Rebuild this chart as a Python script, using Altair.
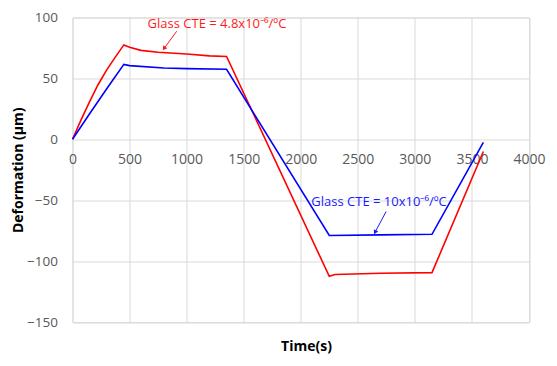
import altair as alt
import pandas as pd

# Series data
time_red = [0, 75, 150, 225, 300, 375, 450, 500, 600, 750, 1000, 1200, 1350, 2250, 2300, 2700, 3150, 3600]
def_red = [0, 16, 31, 45, 57, 67.5, 77.5, 75.5, 73, 71.5, 70, 68.5, 68, -112.5, -111, -110, -109.5, -10]
time_blue = [0, 150, 300, 450, 500, 800, 1000, 1350, 2250, 2700, 3150, 3600]
def_blue = [0, 21, 41.5, 61.5, 60.5, 58.5, 58, 57.5, -79, -78.5, -78, -2.5]

x_ticks = [0, 500, 1000, 1500, 2000, 2500, 3000, 3500, 4000]
y_ticks = [-150, -100, -50, 0, 50, 100]

# Annotations
ann_text = ["Glass CTE = 4.8x10⁻⁶/ºC", "Glass CTE = 10x10⁻⁶/ºC"]
ann_color = ["#ff1a1a", "#1a1aff"]
ann_x = [1266, 2686]
ann_y = [94.6, -51.1]
arrow_x0 = [913, 2748]
arrow_y0 = [88.7, -59.3]
arrow_x1 = [802, 2651]
arrow_y1 = [74.5, -76.4]
arrow_angle = [216, 208]

FONT = "Open Sans"

df = pd.concat([
    pd.DataFrame({"t": time_red, "d": def_red, "s": "red", "o": range(len(time_red))}),
    pd.DataFrame({"t": time_blue, "d": def_blue, "s": "blue", "o": range(len(time_blue))}),
])
ann = pd.DataFrame({"text": ann_text, "color": ann_color, "x": ann_x, "y": ann_y,
                    "x0": arrow_x0, "y0": arrow_y0, "x1": arrow_x1, "y1": arrow_y1,
                    "angle": arrow_angle})

xs = alt.Scale(domain=[0, 4000], nice=False)
ys = alt.Scale(domain=[-150, 100], nice=False)

lines = alt.Chart(df).mark_line(strokeWidth=1.6).encode(
    x=alt.X("t:Q", scale=xs, axis=alt.Axis(
        values=x_ticks, format="d", title="Time(s)", offset=-183, domain=False, ticks=False,
        labelPadding=13, labelColor="#595959", labelFontSize=14, labelFont=FONT, labelFlush=False,
        gridColor="#d9d9d9", titleFont=FONT, titleFontSize=14, titleFontWeight="bold",
        titleColor="#000000", titleX=233.5, titleY=207, titleBaseline="middle")),
    y=alt.Y("d:Q", scale=ys, axis=alt.Axis(
        values=y_ticks, format="d", title="Deformation (μm)", domain=False, ticks=False,
        labelPadding=15, labelColor="#595959", labelFontSize=13.5, labelFont=FONT, labelFlush=False,
        gridColor="#d9d9d9", titleFont=FONT, titleFontSize=14, titleFontWeight="bold",
        titleColor="#000000", titleX=-54.5, titleBaseline="middle")),
    color=alt.Color("s:N", scale=alt.Scale(domain=["red", "blue"], range=["#ff0000", "#0000ff"]), legend=None),
    order="o:Q",
    detail="s:N",
)

texts = alt.Chart(ann).mark_text(font=FONT, fontSize=13).encode(
    x="x:Q", y="y:Q", text="text:N",
    color=alt.Color("color:N", scale=None),
)

arrows = alt.Chart(ann).mark_rule(strokeWidth=1).encode(
    x="x0:Q", y="y0:Q", x2="x1:Q", y2="y1:Q",
    color=alt.Color("color:N", scale=None),
)

heads = alt.Chart(ann).mark_point(shape="triangle-up", filled=True, size=25, opacity=1).encode(
    x="x1:Q", y="y1:Q", angle=alt.Angle("angle:Q", scale=None),
    color=alt.Color("color:N", scale=None),
)

chart = alt.layer(lines, arrows, heads, texts).properties(
    width=456.5, height=304.5,
    autosize=alt.AutoSizeParams(type="none"),
    padding={"left": 64.5, "top": 9.5, "right": 20, "bottom": 44},
).configure_view(stroke=None).configure(background="white")

chart.save("out.html", embed_options={"renderer": "svg", "actions": False})
